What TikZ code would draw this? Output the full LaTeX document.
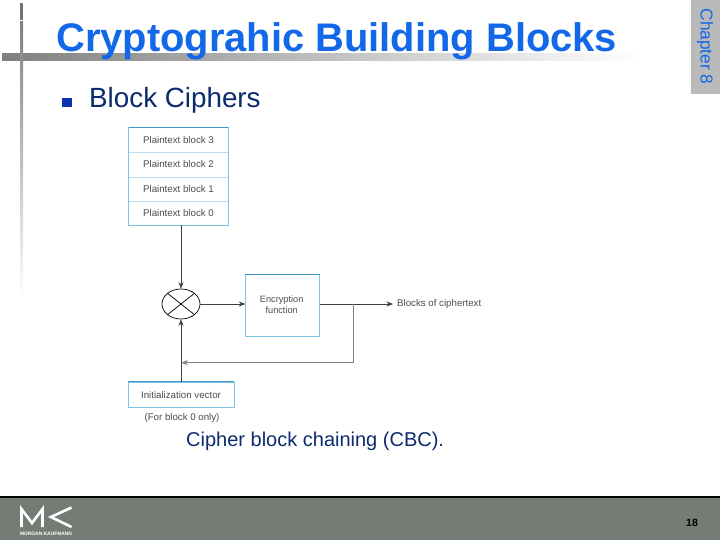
\documentclass[tikz,border=0pt]{standalone}
\usepackage{fontspec}
\setmainfont{Liberation Sans}
\usetikzlibrary{arrows.meta, calc, shapes.geometric}
\definecolor{titleblue}{RGB}{18,104,232}
\definecolor{bodyblue}{RGB}{12,42,110}
\definecolor{bulletblue}{RGB}{10,50,180}
\definecolor{footgray}{RGB}{117,124,118}
\definecolor{tabgray}{RGB}{186,186,186}
\definecolor{boxcyan}{RGB}{70,170,215}
\definecolor{rowline}{RGB}{190,222,235}
\definecolor{figtext}{RGB}{75,75,75}
\tikzset{
  plain row/.style={
    minimum width=99pt,
    minimum height=24.5pt,
    inner sep=0pt,
    font=\fontsize{9.7pt}{11pt}\selectfont,
    text=figtext
  },
  cyan box/.style={
    draw=boxcyan!70,
    line width=0.8pt,
    inner sep=0pt,
    align=center,
    font=\fontsize{9.2pt}{11.7pt}\selectfont,
    text=figtext
  },
  fig label/.style={
    inner sep=0pt,
    font=\fontsize{9.7pt}{11pt}\selectfont,
    text=figtext
  },
  flow/.style={
    -{Stealth[length=6.5pt,width=5pt]},
    line width=0.6pt,
    color=black!75
  },
  slide text/.style={
    inner sep=0pt,
    font=\fontsize{27.8pt}{31pt}\selectfont,
    text=bodyblue
  },
  top edge/.style={
    boxcyan!90!black,
    line width=1.5pt
  }
}

\begin{document}
\begin{tikzpicture}[x=1pt, y=-1pt]
    \useasboundingbox (0,0) rectangle (720,540);

    % footer
    \fill[footgray] (0,497) rectangle (720,540);
    \fill[black] (0,496) rectangle (720,498);
    \node[inner sep=0pt, font=\bfseries\fontsize{10.5pt}{12pt}\selectfont] (PageNo) at (692,522.5) {18};

    % logo
    \draw[white, line width=2.6pt, line join=miter] (21.5,527) -- (21.5,509) -- (32,523) -- (42.5,509) -- (42.5,527);
    \draw[white, line width=2.6pt, line join=miter] (71.5,507.5) -- (51,517) -- (71.5,527);
    \node[white, inner sep=0pt, font=\bfseries\fontsize{4.9pt}{5pt}\selectfont] (LogoText) at (46,533.5) {MORGAN KAUFMANN};

    % title bars
    \shade[left color=black!50, right color=white] (2,54) rectangle (640,61);
    \fill[black!55] (20,3) rectangle (23,20);
    \shade[top color=black!50, bottom color=white] (20,22) rectangle (23,298);

    % chapter tab
    \fill[tabgray] (691,0) rectangle (720,94);
    \node[rotate=-90, inner sep=0pt, text=titleblue, font=\fontsize{17.3pt}{20pt}\selectfont] (Chapter) at (705,46.5) {Chapter 8};

    % title and bullet
    \node[anchor=base west, inner sep=0pt, text=titleblue, font=\bfseries\fontsize{39.9pt}{44pt}\selectfont] (Title) at (56,52) {Cryptograhic Building Blocks};
    \fill[bulletblue] (62.3,97.7) rectangle (72,107.3);
    \node[slide text, anchor=base west] (Heading) at (89,108) {Block Ciphers};

    % plaintext stack
    \node[plain row] (Block3) at (178.5,140) {Plaintext block 3};
    \node[plain row] (Block2) at (178.5,164.5) {Plaintext block 2};
    \node[plain row] (Block1) at (178.5,189) {Plaintext block 1};
    \node[plain row] (Block0) at (178.5,213) {Plaintext block 0};
    \draw[rowline, line width=0.7pt] (Block3.south west) -- (Block3.south east);
    \draw[rowline, line width=0.7pt] (Block2.south west) -- (Block2.south east);
    \draw[rowline, line width=0.7pt] (Block1.south west) -- (Block1.south east);
    \draw[boxcyan!70, line width=0.8pt] (Block3.north west) rectangle (Block0.south east);
    \draw[top edge] (Block3.north west) -- (Block3.north east);

    % xor
    \node[draw, ellipse, line width=0.7pt, minimum width=38pt, minimum height=30pt, inner sep=0pt] (Xor) at (181,304) {};
    \draw[line width=0.7pt] (Xor.north west) -- (Xor.south east);
    \draw[line width=0.7pt] (Xor.north east) -- (Xor.south west);

    % encryption and iv
    \node[cyan box, minimum width=74pt, minimum height=62pt] (Encrypt) at (282.7,305.7) {};
    \node[fig label, align=center, font=\fontsize{9.2pt}{11.7pt}\selectfont] (EncryptText) at (281.7,304.8) {Encryption\\function};
    \draw[top edge] (Encrypt.north west) -- (Encrypt.north east);
    \node[cyan box, minimum width=106pt, minimum height=25pt, font=\fontsize{9.7pt}{11pt}\selectfont] (IV) at (181,394.8) {Initialization vector};
    \draw[top edge, line width=1.1pt] (IV.north west) -- (IV.north east);
    \node[fig label] (ForBlock) at (182,418) {(For block 0 only)};
    \node[fig label, anchor=west] (Cipher) at (397,304) {Blocks of ciphertext};
    \coordinate (Branch) at (353.3,304);
    \coordinate (Back) at (181.3,362.7);

    % connectors
    \draw[flow] (Block0.south -| Xor.north) -- (Xor.north);
    \draw[flow] (Xor.east) -- (Encrypt.west |- Xor.east);
    \draw[flow, shorten >=4pt] (Encrypt.east |- Xor.east) -- (Cipher.west);
    \draw[flow] (IV.north -| Xor.south) -- (Xor.south);
    \draw[flow, black!50] (Branch) |- (Back);

    \node[slide text, anchor=base west, font=\fontsize{20pt}{24pt}\selectfont] (Caption) at (186,446) {Cipher block chaining (CBC).};

\end{tikzpicture}
\end{document}
